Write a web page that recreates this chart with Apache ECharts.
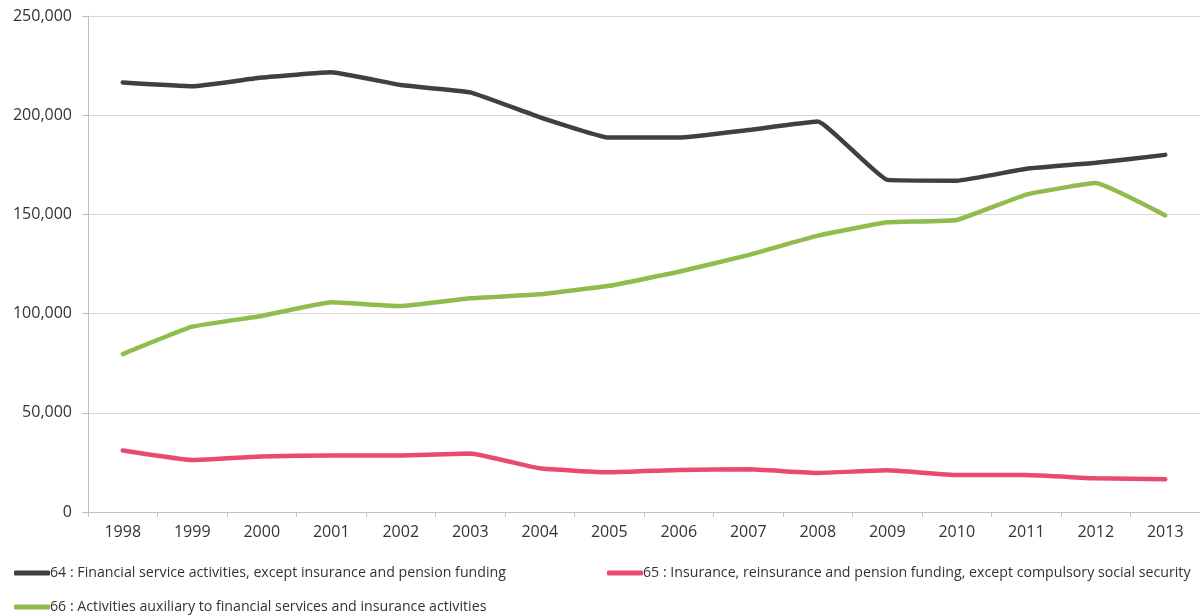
<!DOCTYPE html>
<html>
<head>
<meta charset="utf-8">
<script src="https://cdn.jsdelivr.net/npm/echarts@6/dist/echarts.min.js"></script>
<style>
html,body{margin:0;padding:0;background:#fff;}
#chart{width:1200px;height:616px;}
</style>
</head>
<body>
<div id="chart"></div>
<script>
const years = ['1998','1999','2000','2001','2002','2003','2004','2005','2006','2007','2008','2009','2010','2011','2012','2013'];
const name64 = '64 : Financial service activities, except insurance and pension funding';
const name65 = '65 : Insurance, reinsurance and pension funding, except compulsory social security';
const name66 = '66 : Activities auxiliary to financial services and insurance activities';
const s64 = [216500, 214600, 219000, 221600, 215200, 211500, 199000, 188700, 188700, 192500, 196800, 167400, 167000, 173000, 176000, 180000];
const s65 = [31000, 26200, 28000, 28500, 28500, 29500, 22000, 20000, 21200, 21500, 19700, 21000, 18600, 18600, 17000, 16500];
const s66 = [79600, 93400, 98800, 105700, 103800, 107700, 109700, 114000, 121100, 129500, 139300, 146000, 147200, 160000, 165800, 149500];

const FONT = 'Open Sans';
const TXT = '#333333';
const chart = echarts.init(document.getElementById('chart'), null, {renderer: 'canvas'});
function mkLegend(name, left, top) {
  return {
    data: [name], left: left, top: top, orient: 'horizontal',
    itemWidth: 36, itemHeight: 5, itemGap: 0,
    icon: 'roundRect',
    textStyle: {fontFamily: FONT, fontSize: 14.2, color: TXT, padding: [0,0,0,-5]},
    padding: 0, selectedMode: false
  };
}
chart.setOption({
  animation: false,
  textStyle: {fontFamily: FONT},
  grid: {left: 88, right: 0, top: 16, bottom: 104, containLabel: false},
  legend: [
    mkLegend(name64, 14, 566),
    mkLegend(name65, 607, 566),
    mkLegend(name66, 14, 600)
  ],
  xAxis: {
    type: 'category', data: years, boundaryGap: true,
    axisLine: {show: true, lineStyle: {color: '#bfbfbf', width: 1}},
    axisTick: {show: true, length: 5, alignWithLabel: false, lineStyle: {color: '#bfbfbf'}},
    axisLabel: {fontFamily: FONT, fontSize: 16, color: TXT, margin: 12}
  },
  yAxis: {
    type: 'value', min: 0, max: 250000, interval: 50000,
    axisLine: {show: true, lineStyle: {color: '#bfbfbf', width: 1}},
    axisTick: {show: true, length: 6, inside: false, lineStyle: {color: '#bfbfbf'}},
    splitLine: {show: true, lineStyle: {color: '#d9d9d9', width: 1}},
    axisLabel: {fontFamily: FONT, fontSize: 16, color: TXT, margin: 16,
      formatter: v => v === 0 ? '0' : v.toLocaleString('en-US')}
  },
  series: [
    {name: name64, type: 'line', data: s64, symbol: 'none', smooth: 0.1,
      lineStyle: {color: '#404040', width: 4.5, cap: 'round'}, itemStyle: {color: '#404040'}},
    {name: name65, type: 'line', data: s65, symbol: 'none', smooth: 0.1,
      lineStyle: {color: '#e94a6f', width: 4.5, cap: 'round'}, itemStyle: {color: '#e94a6f'}},
    {name: name66, type: 'line', data: s66, symbol: 'none', smooth: 0.1,
      lineStyle: {color: '#8fbc4c', width: 4.5, cap: 'round'}, itemStyle: {color: '#8fbc4c'}}
  ]
});
</script>
</body>
</html>
